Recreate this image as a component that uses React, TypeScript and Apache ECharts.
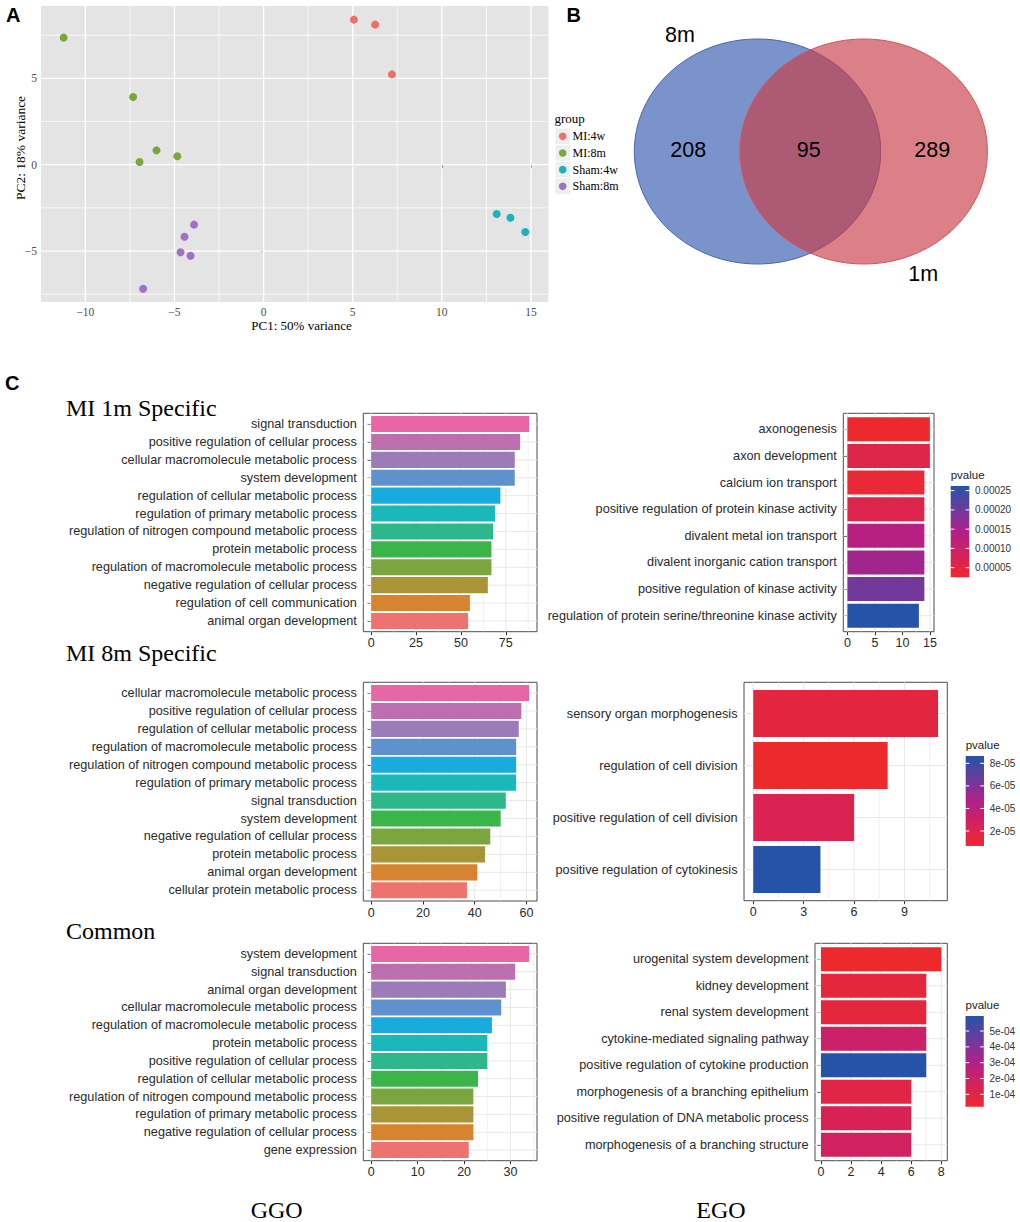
import React, { useEffect, useRef } from "react";
import * as echarts from "echarts";

// ---------- Panel A: PCA ----------
const pcaGroups = ["MI:4w", "MI:8m", "Sham:4w", "Sham:8m"];
const pcaMI4w = [[5.07, 8.4], [6.26, 8.11], [7.2, 5.23]];
const pcaMI8m = [[-11.22, 7.36], [-7.32, 3.92], [-6.01, 0.83], [-6.96, 0.16], [-4.84, 0.49]];
const pcaSham4w = [[13.08, -2.85], [13.85, -3.07], [14.68, -3.9]];
const pcaSham8m = [[-3.9, -3.47], [-4.44, -4.17], [-4.66, -5.07], [-4.1, -5.27], [-6.76, -7.18]];
const pcaXTicks = [-10, -5, 0, 5, 10, 15];
const pcaXMinor = [-7.5, -2.5, 2.5, 7.5, 12.5];
const pcaYTicks = [-5, 0, 5];
const pcaYMinor = [-7.5, -2.5, 2.5, 7.5];

// ---------- Panel B: Venn ----------
const vennSets = ["8m", "1m"];
const vennCounts = [208, 95, 289];

// ---------- Panel C: GO bars ----------
const ggo1mTerms = ["signal transduction", "positive regulation of cellular process", "cellular macromolecule metabolic process", "system development", "regulation of cellular metabolic process", "regulation of primary metabolic process", "regulation of nitrogen compound metabolic process", "protein metabolic process", "regulation of macromolecule metabolic process", "negative regulation of cellular process", "regulation of cell communication", "animal organ development"];
const ggo1mCounts = [88, 83, 80, 80, 72, 69, 68, 67, 67, 65, 55, 54];
const ggo1mTicks = [0, 25, 50, 75];
const ggo1mMinor = [12.5, 37.5, 62.5, 87.5];

const ggo8mTerms = ["cellular macromolecule metabolic process", "positive regulation of cellular process", "regulation of cellular metabolic process", "regulation of macromolecule metabolic process", "regulation of nitrogen compound metabolic process", "regulation of primary metabolic process", "signal transduction", "system development", "negative regulation of cellular process", "protein metabolic process", "animal organ development", "cellular protein metabolic process"];
const ggo8mCounts = [61, 58, 57, 56, 56, 56, 52, 50, 46, 44, 41, 37];
const ggo8mTicks = [0, 20, 40, 60];
const ggo8mMinor = [10, 30, 50];

const ggoComTerms = ["system development", "signal transduction", "animal organ development", "cellular macromolecule metabolic process", "regulation of macromolecule metabolic process", "protein metabolic process", "positive regulation of cellular process", "regulation of cellular metabolic process", "regulation of nitrogen compound metabolic process", "regulation of primary metabolic process", "negative regulation of cellular process", "gene expression"];
const ggoComCounts = [34, 31, 29, 28, 26, 25, 25, 23, 22, 22, 22, 21];
const ggoComTicks = [0, 10, 20, 30];
const ggoComMinor = [5, 15, 25, 35];

const ego1mTerms = ["axonogenesis", "axon development", "calcium ion transport", "positive regulation of protein kinase activity", "divalent metal ion transport", "divalent inorganic cation transport", "positive regulation of kinase activity", "regulation of protein serine/threonine kinase activity"];
const ego1mCounts = [15, 15, 14, 14, 14, 14, 14, 13];
const ego1mP = [2.5e-5, 6.1e-5, 3.4e-5, 6.5e-5, 1.32e-4, 1.55e-4, 1.96e-4, 2.62e-4];
const ego1mTicks = [0, 5, 10, 15];
const ego1mMinor = [2.5, 7.5, 12.5];
const ego1mPTicks = [5e-5, 1e-4, 1.5e-4, 2e-4, 2.5e-4];
const ego1mPLabels = ["0.00005", "0.00010", "0.00015", "0.00020", "0.00025"];

const ego8mTerms = ["sensory organ morphogenesis", "regulation of cell division", "positive regulation of cell division", "positive regulation of cytokinesis"];
const ego8mCounts = [11, 8, 6, 4];
const ego8mP = [1.47e-5, 6.7e-6, 2.27e-5, 8.65e-5];
const ego8mTicks = [0, 3, 6, 9];
const ego8mMinor = [1.5, 4.5, 7.5, 10.5];
const ego8mPTicks = [2e-5, 4e-5, 6e-5, 8e-5];
const ego8mPLabels = ["2e-05", "4e-05", "6e-05", "8e-05"];

const egoComTerms = ["urogenital system development", "kidney development", "renal system development", "cytokine-mediated signaling pathway", "positive regulation of cytokine production", "morphogenesis of a branching epithelium", "positive regulation of DNA metabolic process", "morphogenesis of a branching structure"];
const egoComCounts = [8, 7, 7, 7, 7, 6, 6, 6];
const egoComP = [2.2e-5, 6.8e-5, 6.8e-5, 2.05e-4, 5.95e-4, 9.6e-5, 1.48e-4, 1.82e-4];
const egoComTicks = [0, 2, 4, 6, 8];
const egoComMinor = [1, 3, 5, 7];
const egoComPTicks = [1e-4, 2e-4, 3e-4, 4e-4, 5e-4];
const egoComPLabels = ["1e-04", "2e-04", "3e-04", "4e-04", "5e-04"];

// ---------- styles ----------
const SANS = "Liberation Sans, Arial, Helvetica, sans-serif";
const SERIF = "Liberation Serif, Times New Roman, serif";
const pcaColors = ["#EE6E6A", "#78A837", "#1CB4B9", "#A070C8"];
const ggoPalette = ["#E766A3", "#BC6EAE", "#9B7BB8", "#5F92CC", "#1AABDE", "#1AB8B8", "#2EB78A", "#3BB44A", "#7BA63F", "#A99437", "#D6842F", "#EE7270"];
const pStops = ["#EC2A2E", "#D5215C", "#B0208A", "#6A3C9C", "#2553A8"];
const labelColor = "#2a2a2a";

const minusFmt = (v: number) => (v < 0 ? "\u2212" + Math.abs(v) : String(v));

function gridLineSeries(idx: number, xMajor: number[], xMinor: number[], yMajor: number[], yMinor: number[], color: string, wMajor: number, wMinor: number, xRef: number, yRef: number) {
  const data: number[][] = [];
  xMajor.forEach((v) => data.push([v, 0, 1]));
  xMinor.forEach((v) => data.push([v, 0, 0]));
  yMajor.forEach((v) => data.push([v, 1, 1]));
  yMinor.forEach((v) => data.push([v, 1, 0]));
  return {
    type: "custom",
    coordinateSystem: "cartesian2d",
    xAxisIndex: idx,
    yAxisIndex: idx,
    silent: true,
    z: 1,
    encode: { x: 0, y: 1 },
    data,
    renderItem: (params: any, api: any) => {
      const cs = params.coordSys;
      const v = api.value(0) as number;
      const o = api.value(1) as number;
      const m = api.value(2) as number;
      const w = m ? wMajor : wMinor;
      if (o === 0) {
        const x = api.coord([v, yRef])[0];
        return { type: "line", shape: { x1: x, y1: cs.y, x2: x, y2: cs.y + cs.height }, style: { stroke: color, lineWidth: w } };
      }
      const y = api.coord([xRef, v])[1];
      return { type: "line", shape: { x1: cs.x, y1: y, x2: cs.x + cs.width, y2: y }, style: { stroke: color, lineWidth: w } };
    },
  };
}

type Panel = {
  terms: string[];
  counts: number[];
  ticks: number[];
  minor: number[];
  left: number;
  right: number;
  top: number;
  bottom: number;
  p?: number[];
  pTicks?: number[];
  pLabels?: string[];
  cb?: { x: number; y: number; w: number; h: number };
};

const panels: Panel[] = [
  { terms: ggo1mTerms, counts: ggo1mCounts, ticks: ggo1mTicks, minor: ggo1mMinor, left: 363.3, right: 537, top: 413.3, bottom: 631.7 },
  { terms: ggo8mTerms, counts: ggo8mCounts, ticks: ggo8mTicks, minor: ggo8mMinor, left: 363.3, right: 537, top: 682.3, bottom: 901 },
  { terms: ggoComTerms, counts: ggoComCounts, ticks: ggoComTicks, minor: ggoComMinor, left: 363.3, right: 537, top: 943.3, bottom: 1160.7 },
  { terms: ego1mTerms, counts: ego1mCounts, ticks: ego1mTicks, minor: ego1mMinor, left: 843.3, right: 934, top: 413.3, bottom: 631.7, p: ego1mP, pTicks: ego1mPTicks, pLabels: ego1mPLabels, cb: { x: 950.7, y: 486, w: 18.6, h: 91.3 } },
  { terms: ego8mTerms, counts: ego8mCounts, ticks: ego8mTicks, minor: ego8mMinor, left: 744, right: 947.3, top: 682.3, bottom: 900.7, p: ego8mP, pTicks: ego8mPTicks, pLabels: ego8mPLabels, cb: { x: 965.7, y: 756, w: 18.3, h: 90 } },
  { terms: egoComTerms, counts: egoComCounts, ticks: egoComTicks, minor: egoComMinor, left: 815, right: 947.3, top: 943.3, bottom: 1160.7, p: egoComP, pTicks: egoComPTicks, pLabels: egoComPLabels, cb: { x: 965.5, y: 1016, w: 18.3, h: 90.7 } },
];

function txt(text: string, x: number, y: number, size: number, family: string, opts: any = {}) {
  const align = opts.align || "left";
  const va = opts.va || "middle";
  return {
    type: "text",
    x,
    y,
    rotation: opts.rotation || 0,
    silent: true,
    z: 10,
    style: {
      text,
      fontSize: size,
      fontFamily: family,
      fontWeight: opts.weight || "normal",
      fill: opts.color || "#000",
      align,
      textAlign: align,
      verticalAlign: va,
      textVerticalAlign: va,
    },
  };
}

function buildOption() {
  const grids: any[] = [];
  const xAxes: any[] = [];
  const yAxes: any[] = [];
  const series: any[] = [];
  const visualMaps: any[] = [];
  const graphics: any[] = [];

  // ---- PCA ----
  const pL = 41, pR = 548.4, pT = 6, pB = 302;
  grids.push({ left: pL, top: pT, width: pR - pL, height: pB - pT, show: true, backgroundColor: "#E4E4E4", borderWidth: 0 });
  xAxes.push({
    gridIndex: 0, type: "value", min: -12.49, max: 15.98,
    axisLine: { show: false }, splitLine: { show: false },
    axisTick: { show: true, customValues: pcaXTicks, length: 3.5, lineStyle: { color: "#333", width: 1 } },
    axisLabel: { customValues: pcaXTicks, formatter: minusFmt, fontFamily: SERIF, fontSize: 11.5, color: "#4D4D4D", margin: 3.5 },
  });
  yAxes.push({
    gridIndex: 0, type: "value", min: -7.95, max: 9.19,
    axisLine: { show: false }, splitLine: { show: false },
    axisTick: { show: true, customValues: pcaYTicks, length: 3.5, lineStyle: { color: "#333", width: 1 } },
    axisLabel: { customValues: pcaYTicks, formatter: minusFmt, fontFamily: SERIF, fontSize: 11.5, color: "#4D4D4D", margin: 4 },
  });
  series.push(gridLineSeries(0, pcaXTicks, pcaXMinor, pcaYTicks, pcaYMinor, "#FFFFFF", 1.3, 0.7, 0, 0));
  [pcaMI4w, pcaMI8m, pcaSham4w, pcaSham8m].forEach((d, i) => {
    series.push({
      type: "scatter", name: pcaGroups[i], xAxisIndex: 0, yAxisIndex: 0, data: d, symbolSize: 8, z: 3,
      itemStyle: { color: pcaColors[i], opacity: 1 }, silent: true,
    });
  });
  graphics.push(txt("PC1: 50% variance", 301.5, 325, 13, SERIF, { align: "center" }));
  graphics.push(txt("PC2: 18% variance", 20, 148, 13.5, SERIF, { align: "center", rotation: Math.PI / 2 }));
  // legend
  graphics.push(txt("group", 554.5, 118.5, 13, SERIF));
  pcaGroups.forEach((g, i) => {
    const cy = 136.3 + 16.67 * i;
    graphics.push({ type: "rect", silent: true, z: 5, shape: { x: 555, y: cy - 8.3, width: 15.5, height: 16.6 }, style: { fill: "#EFEFEF", stroke: "#FFFFFF", lineWidth: 0.8 } });
    graphics.push({ type: "circle", silent: true, z: 6, shape: { cx: 562.7, cy, r: 3.8 }, style: { fill: pcaColors[i] } });
    graphics.push(txt(g, 572.5, cy, 12, SERIF));
  });

  // ---- Venn ----
  graphics.push({ type: "ellipse", silent: true, z: 5, shape: { cx: 757.5, cy: 151.5, rx: 123.2, ry: 112.5 }, style: { fill: "rgba(52,89,175,0.65)", stroke: "#4B65B3", lineWidth: 1 } });
  graphics.push({ type: "ellipse", silent: true, z: 6, shape: { cx: 863.7, cy: 151.5, rx: 123.7, ry: 112.5 }, style: { fill: "rgba(200,60,70,0.65)", stroke: "#D9505B", lineWidth: 1 } });
  graphics.push(txt(vennSets[0], 680, 34.5, 21.5, SANS, { align: "center" }));
  graphics.push(txt(vennSets[1], 923.3, 274, 21.5, SANS, { align: "center" }));
  graphics.push(txt(String(vennCounts[0]), 688.3, 150, 21.5, SANS, { align: "center" }));
  graphics.push(txt(String(vennCounts[1]), 808.7, 150, 21.5, SANS, { align: "center" }));
  graphics.push(txt(String(vennCounts[2]), 932.3, 150, 21.5, SANS, { align: "center" }));

  // ---- Panel letters & titles ----
  graphics.push(txt("A", 6, 15, 20, SANS, { weight: "bold" }));
  graphics.push(txt("B", 566.5, 15, 20, SANS, { weight: "bold" }));
  graphics.push(txt("C", 5, 383, 20, SANS, { weight: "bold" }));
  graphics.push(txt("MI 1m Specific", 66, 408, 24, SERIF));
  graphics.push(txt("MI 8m Specific", 66, 653, 24, SERIF));
  graphics.push(txt("Common", 66, 931, 24, SERIF));
  graphics.push(txt("GGO", 276.7, 1210, 24, SERIF, { align: "center" }));
  graphics.push(txt("EGO", 721, 1210, 24, SERIF, { align: "center" }));

  // ---- Bar panels ----
  panels.forEach((P, k) => {
    const gi = k + 1;
    const n = P.terms.length;
    const mx = Math.max(...P.counts);
    const idxs = P.terms.map((_, i) => i + 1);
    grids.push({ left: P.left, top: P.top, width: P.right - P.left, height: P.bottom - P.top, show: true, backgroundColor: "#FFFFFF", borderColor: "#4D4D4D", borderWidth: 1 });
    xAxes.push({
      gridIndex: gi, type: "value", min: -0.05 * mx, max: 1.05 * mx,
      axisLine: { show: false }, splitLine: { show: false },
      axisTick: { show: true, customValues: P.ticks, length: 3.5, lineStyle: { color: "#333", width: 1 } },
      axisLabel: { customValues: P.ticks, fontFamily: SANS, fontSize: 12.5, color: labelColor, margin: 5 },
    });
    yAxes.push({
      gridIndex: gi, type: "value", inverse: true, min: 0.4, max: n + 0.6,
      axisLine: { show: false }, splitLine: { show: false },
      axisTick: { show: true, customValues: idxs, length: 3.5, lineStyle: { color: "#333", width: 1 } },
      axisLabel: { customValues: idxs, formatter: (v: number) => P.terms[Math.round(v) - 1] || "", fontFamily: SANS, fontSize: 12.7, color: labelColor, margin: 6.5 },
    });
    series.push(gridLineSeries(gi, P.ticks, P.minor, idxs, [], "#E8E8E8", 1, 0.6, 0, 1));
    const data = P.counts.map((c, i) => (P.p ? [c, i + 1, P.p[i]] : [c, i + 1]));
    const sIdx = series.length;
    const isEgo = !!P.p;
    series.push({
      type: "custom", coordinateSystem: "cartesian2d", xAxisIndex: gi, yAxisIndex: gi, silent: true, z: 2,
      encode: { x: 0, y: 1 },
      data,
      renderItem: (params: any, api: any) => {
        const v = api.value(0) as number;
        const i = api.value(1) as number;
        const a = api.coord([0, i]);
        const b = api.coord([v, i]);
        const h = Math.abs(api.size([0, 1])[1]) * 0.9;
        const fill = isEgo ? api.visual("color") : ggoPalette[params.dataIndex % ggoPalette.length];
        return { type: "rect", shape: { x: a[0], y: a[1] - h / 2, width: b[0] - a[0], height: h }, style: { fill } };
      },
    });
    if (isEgo && P.p && P.cb && P.pTicks && P.pLabels) {
      const pmin = Math.min(...P.p);
      const pmax = Math.max(...P.p);
      visualMaps.push({ type: "continuous", show: false, seriesIndex: sIdx, dimension: 2, min: pmin, max: pmax, inRange: { color: pStops } });
      const cb = P.cb;
      graphics.push(txt("pvalue", cb.x, cb.y - 11, 11.5, SANS, { color: "#1a1a1a" }));
      const stops = pStops.map((c, i) => ({ offset: 1 - i / (pStops.length - 1), color: c })).reverse();
      graphics.push({ type: "rect", silent: true, z: 5, shape: { x: cb.x, y: cb.y, width: cb.w, height: cb.h }, style: { fill: { type: "linear", x: 0, y: 0, x2: 0, y2: 1, colorStops: stops } } });
      P.pTicks.forEach((t, i) => {
        const ty = cb.y + cb.h - ((t - pmin) / (pmax - pmin)) * cb.h;
        graphics.push({ type: "line", silent: true, z: 6, shape: { x1: cb.x, y1: ty, x2: cb.x + 3.7, y2: ty }, style: { stroke: "#FFFFFF", lineWidth: 1 } });
        graphics.push({ type: "line", silent: true, z: 6, shape: { x1: cb.x + cb.w - 3.7, y1: ty, x2: cb.x + cb.w, y2: ty }, style: { stroke: "#FFFFFF", lineWidth: 1 } });
        graphics.push(txt(P.pLabels![i], cb.x + cb.w + 5.7, ty, 10, SANS, { color: "#333" }));
      });
    }
  });

  return {
    animation: false,
    backgroundColor: "#FFFFFF",
    textStyle: { fontFamily: SANS },
    grid: grids,
    xAxis: xAxes,
    yAxis: yAxes,
    visualMap: visualMaps,
    series,
    graphic: { elements: graphics },
  };
}

export default function App() {
  const ref = useRef<HTMLDivElement>(null);
  useEffect(() => {
    if (!ref.current) return;
    const chart = echarts.init(ref.current, null, { renderer: "svg" });
    chart.setOption(buildOption() as any);
    return () => chart.dispose();
  }, []);
  return <div ref={ref} style={{ position: "absolute", left: 0, top: 0, width: 1020, height: 1222, background: "#fff" }} />;
}
